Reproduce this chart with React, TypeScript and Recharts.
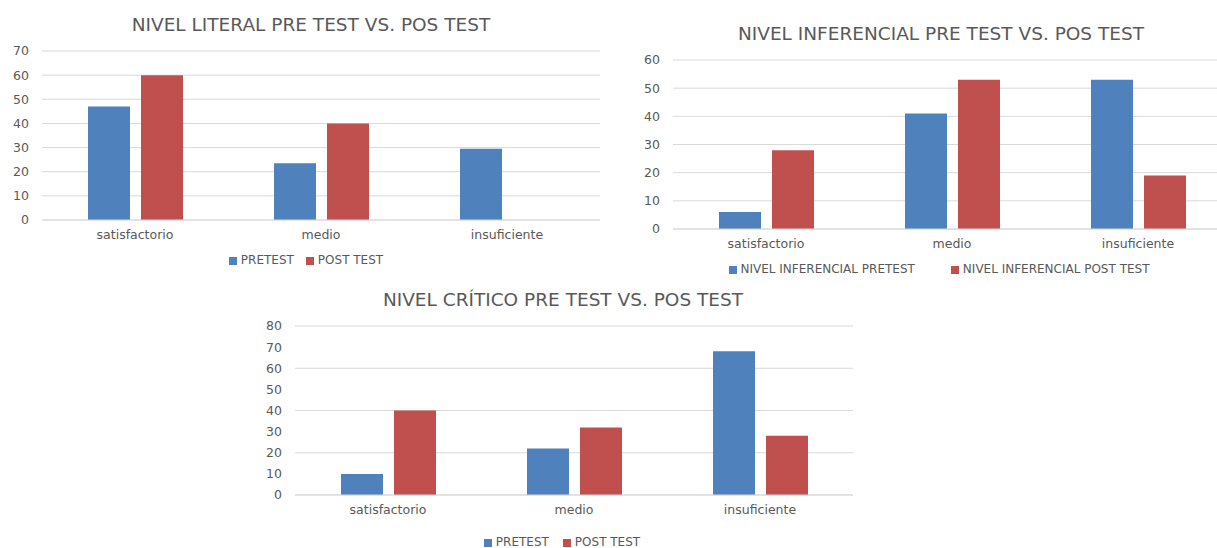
import React from "react";
import { BarChart, Bar, XAxis, YAxis, CartesianGrid, Legend } from "recharts";

const categories = ["satisfactorio", "medio", "insuficiente"];

const literalPre = [47, 23.5, 29.5];
const literalPost = [60, 40, 0];

const inferencialPre = [6, 41, 53];
const inferencialPost = [28, 53, 19];

const criticoPre = [10, 22, 68];
const criticoPost = [40, 32, 28];

const literalTicks = [0, 10, 20, 30, 40, 50, 60, 70];
const inferencialTicks = [0, 10, 20, 30, 40, 50, 60];
const criticoTicks = [0, 10, 20, 30, 40, 50, 60, 70, 80];

const BLUE = "#4F81BD";
const RED = "#C0504D";
const TEXT = "#595959";
const GRID = "#D9D9D9";
const FONT = "'DejaVu Sans', sans-serif";

const Y_W = 40;
const M_TOP = 10;
const X_H = 60;

type PanelProps = {
  title: string;
  preName: string;
  postName: string;
  pre: number[];
  post: number[];
  ticks: number[];
  plot: { x: number; y: number; w: number; h: number };
  titleCx: number;
  titleCy: number;
  legendCx: number;
  legendCy: number;
  legendGap: number;
};

const Panel = (p: PanelProps) => {
  const rows = categories.map((name, i) => ({ name, pre: p.pre[i], post: p.post[i] }));
  const left = p.plot.x - Y_W;
  const top = p.plot.y - M_TOP;
  const width = Y_W + p.plot.w;
  const height = M_TOP + p.plot.h + X_H;
  const legendW = 600;
  return (
    <>
      <div
        style={{
          position: "absolute",
          left: p.titleCx - 300,
          width: 600,
          top: p.titleCy - 9,
          textAlign: "center",
          fontSize: 18.5,
          lineHeight: "18px",
          color: TEXT,
          whiteSpace: "nowrap",
        }}
      >
        {p.title}
      </div>
      <div style={{ position: "absolute", left, top }}>
        <BarChart
          width={width}
          height={height}
          data={rows}
          margin={{ top: M_TOP, right: 0, left: 0, bottom: 0 }}
          barSize={42}
          barGap={11}
        >
          <CartesianGrid vertical={false} stroke={GRID} />
          <XAxis
            dataKey="name"
            height={X_H}
            axisLine={{ stroke: GRID }}
            tickLine={false}
            tickMargin={4}
            tick={{ fill: TEXT, fontSize: 12.5 }}
          />
          <YAxis
            width={Y_W}
            domain={[0, p.ticks[p.ticks.length - 1]]}
            ticks={p.ticks}
            axisLine={false}
            tickLine={false}
            tickMargin={7}
            tick={{ fill: TEXT, fontSize: 12.5 }}
          />
          <Legend
            layout="horizontal"
            align="center"
            verticalAlign="middle"
            iconType="square"
            iconSize={8}
            itemSorter={(item: any) => (item.dataKey === "pre" ? 0 : 1)}
            wrapperStyle={{
              left: p.legendCx - left - legendW / 2,
              width: legendW,
              top: p.legendCy - top - 8,
              fontSize: 12,
              lineHeight: "16px",
            }}
            formatter={(value, entry: any) => (
              <span style={{ color: TEXT, marginRight: entry.dataKey === "pre" ? p.legendGap : 0 }}>{value}</span>
            )}
          />
          <Bar dataKey="pre" name={p.preName} fill={BLUE} isAnimationActive={false} />
          <Bar dataKey="post" name={p.postName} fill={RED} isAnimationActive={false} />
        </BarChart>
      </div>
    </>
  );
};

export default function App() {
  return (
    <div
      style={{
        position: "fixed",
        left: 0,
        top: 0,
        width: 1217,
        height: 548,
        overflow: "hidden",
        background: "#fff",
        fontFamily: FONT,
      }}
    >
      <Panel
        title="NIVEL LITERAL PRE TEST VS. POS TEST"
        preName="PRETEST"
        postName="POST TEST"
        pre={literalPre}
        post={literalPost}
        ticks={literalTicks}
        plot={{ x: 42, y: 51, w: 558, h: 169 }}
        titleCx={311}
        titleCy={25}
        legendCx={311}
        legendCy={260}
        legendGap={2}
      />
      <Panel
        title="NIVEL INFERENCIAL PRE TEST VS. POS TEST"
        preName="NIVEL INFERENCIAL PRETEST"
        postName="NIVEL INFERENCIAL POST TEST"
        pre={inferencialPre}
        post={inferencialPost}
        ticks={inferencialTicks}
        plot={{ x: 673, y: 60, w: 558, h: 169 }}
        titleCx={941}
        titleCy={34}
        legendCx={944}
        legendCy={269}
        legendGap={26}
      />
      <Panel
        title="NIVEL CRÍTICO PRE TEST VS. POS TEST"
        preName="PRETEST"
        postName="POST TEST"
        pre={criticoPre}
        post={criticoPost}
        ticks={criticoTicks}
        plot={{ x: 295, y: 326, w: 558, h: 169 }}
        titleCx={563}
        titleCy={300}
        legendCx={567}
        legendCy={542}
        legendGap={4}
      />
    </div>
  );
}
